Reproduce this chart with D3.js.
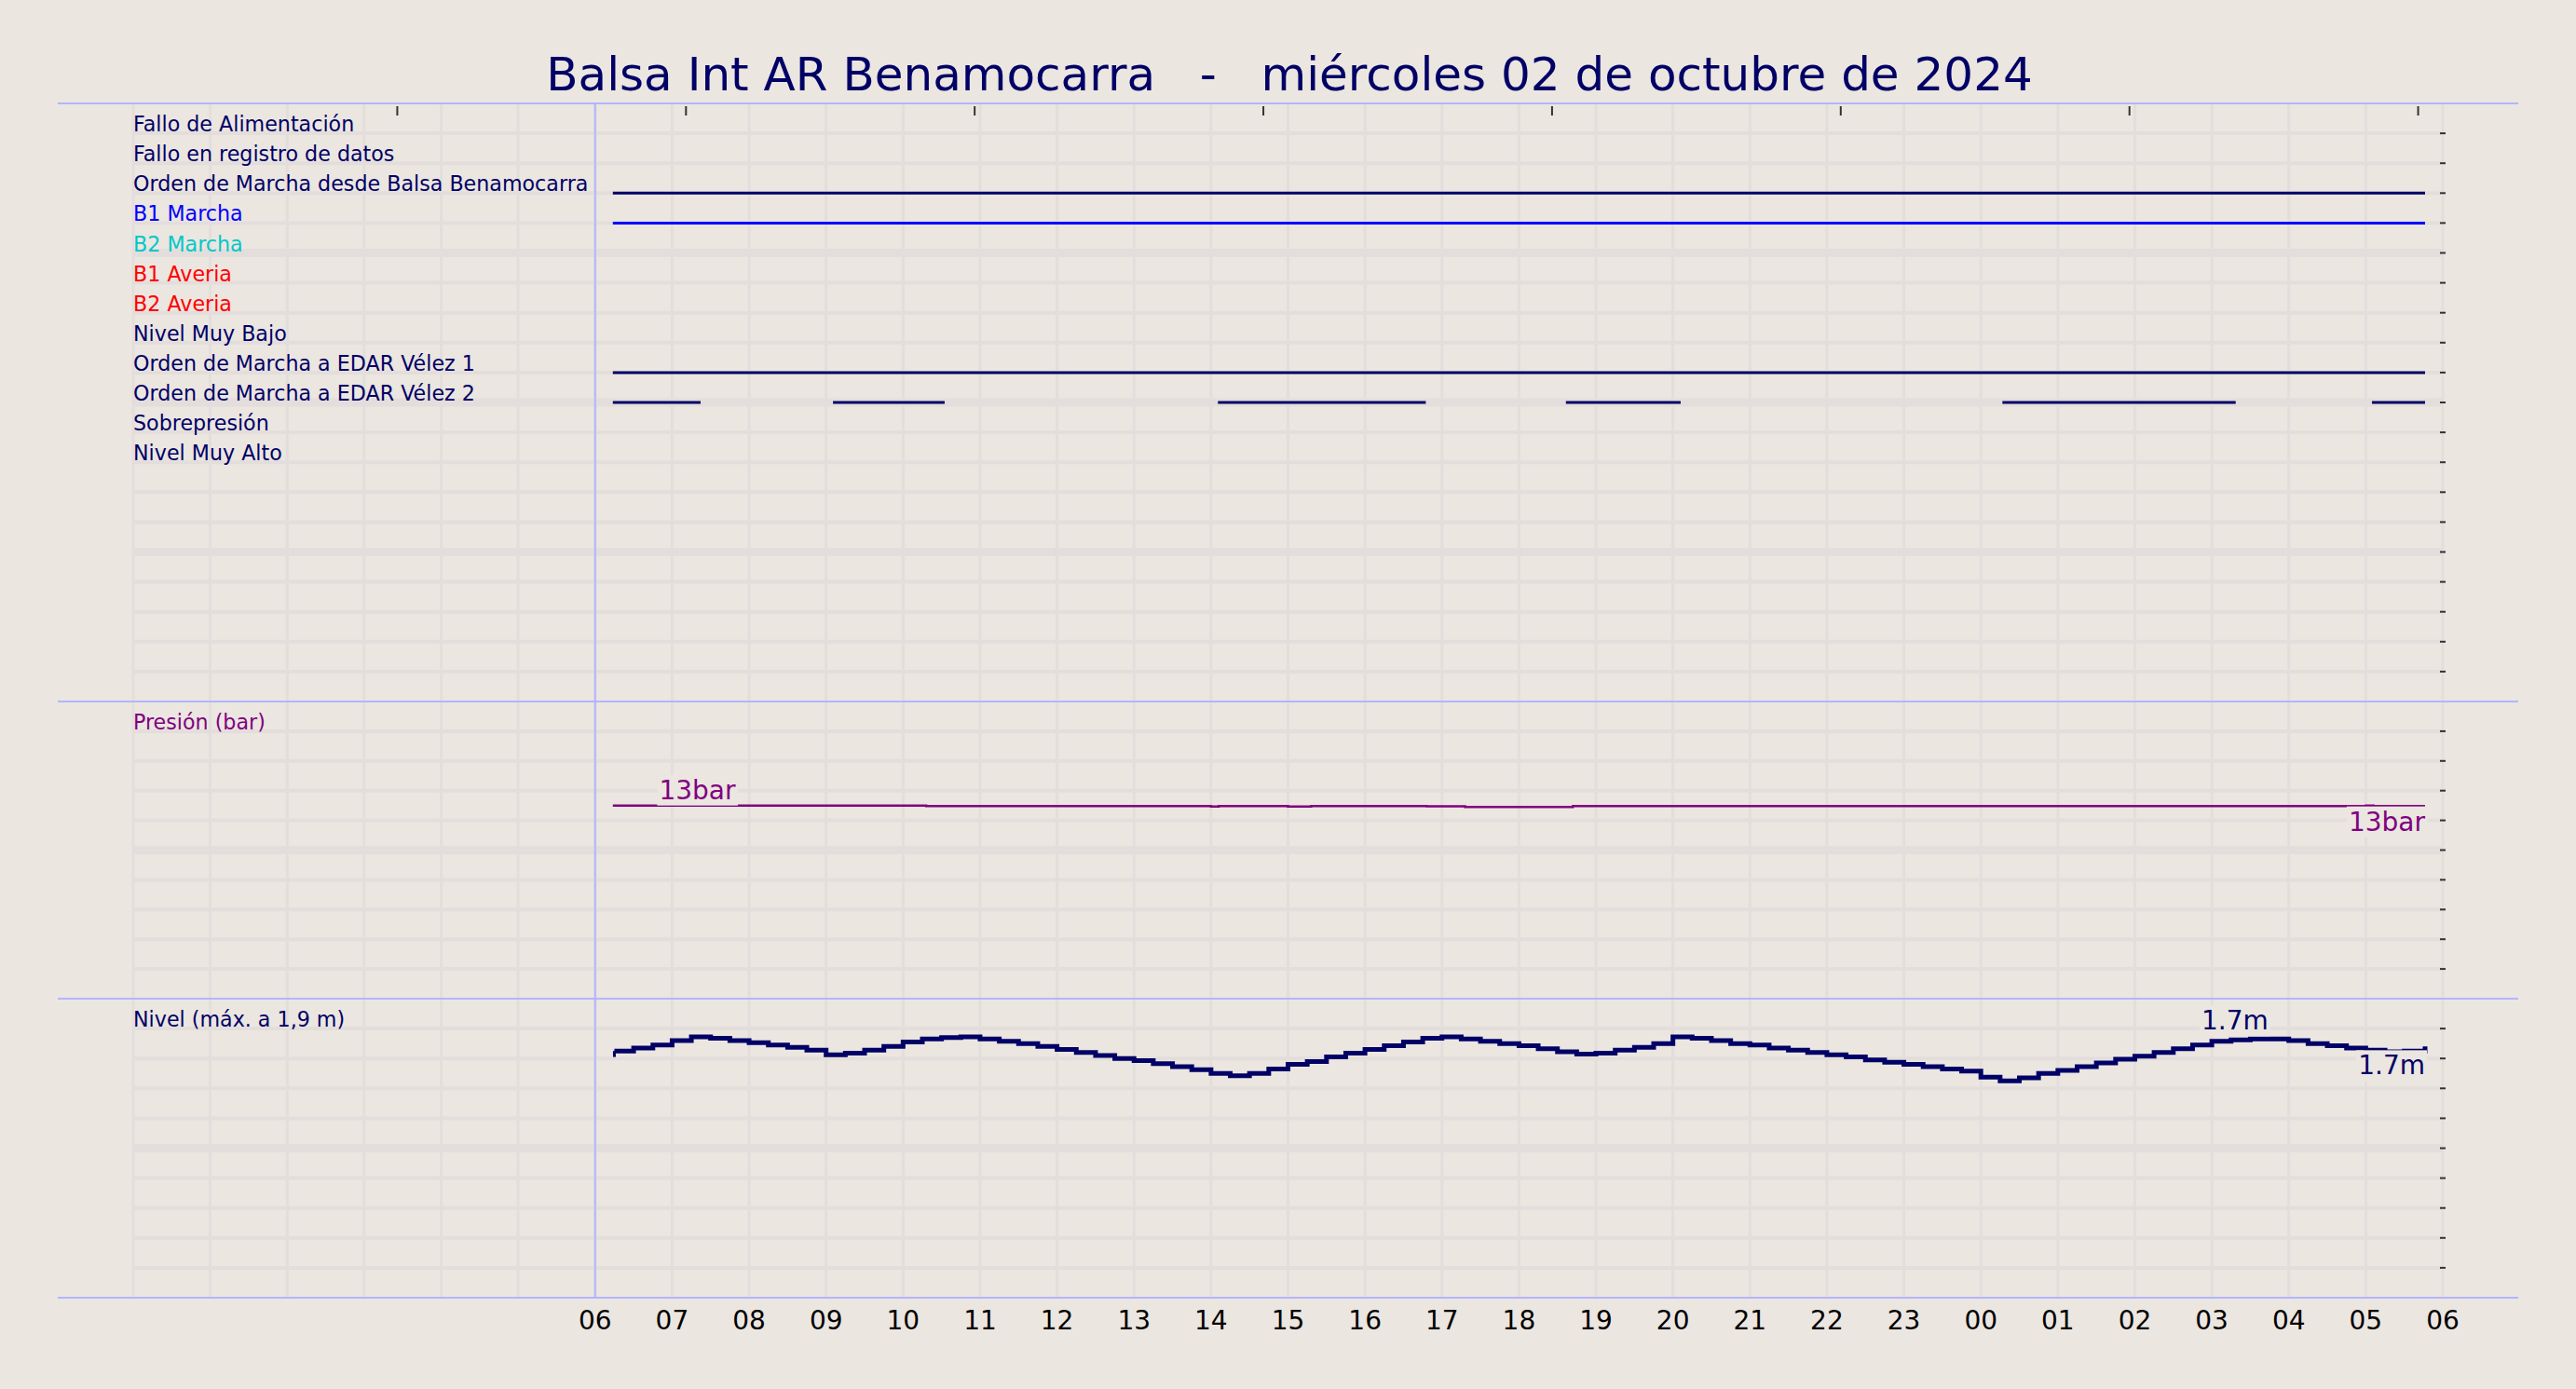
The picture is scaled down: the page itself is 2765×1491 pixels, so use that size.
<!DOCTYPE html>
<html><head><meta charset="utf-8">
<script src="https://cdn.jsdelivr.net/npm/d3@7"></script>
<style>body{margin:0;background:#ebe6e0}svg{display:block;font-family:"DejaVu Sans",sans-serif}</style>
</head><body><svg id="c" width="2765" height="1491"></svg>
<script>
// hours since 06:00 of 02/10/2024
const hourLabels = ["06","07","08","09","10","11","12","13","14","15","16","17","18","19","20","21","22","23","00","01","02","03","04","05","06"];
const signalNames = ["Fallo de Alimentación","Fallo en registro de datos","Orden de Marcha desde Balsa Benamocarra","B1 Marcha","B2 Marcha","B1 Averia","B2 Averia","Nivel Muy Bajo","Orden de Marcha a EDAR Vélez 1","Orden de Marcha a EDAR Vélez 2","Sobrepresión","Nivel Muy Alto"];
const signalColors = ["#000066","#000066","#000066","#0000ff","#00c8c8","#ff0000","#ff0000","#000066","#000066","#000066","#000066","#000066"];
// on-intervals [start,end] hours since 06:00 per signal index
const signalOn = {
  2: [[0.23,23.77]],
  3: [[0.23,23.77]],
  8: [[0.23,23.77]],
  9: [[0.23,1.37],[3.09,4.54],[8.09,10.79],[12.61,14.10],[18.28,21.31],[23.08,23.77]]
};
const pressureT = [0.23,4.3,8.0,8.1,9.0,9.3,10.8,11.3,12.7,23.0,23.1,23.77];
const pressureV = [13.0,12.97,12.93,12.96,12.93,12.96,12.94,12.9,12.96,13.0,12.96,12.96];
const levelT = [0.25,0.5,0.75,1.0,1.25,1.5,1.75,2.0,2.25,2.5,2.75,3.0,3.25,3.5,3.75,4.0,4.25,4.5,4.75,5.0,5.25,5.5,5.75,6.0,6.25,6.5,6.75,7.0,7.25,7.5,7.75,8.0,8.25,8.5,8.75,9.0,9.25,9.5,9.75,10.0,10.25,10.5,10.75,11.0,11.25,11.5,11.75,12.0,12.25,12.5,12.75,13.0,13.25,13.5,13.75,14.0,14.25,14.5,14.75,15.0,15.25,15.5,15.75,16.0,16.25,16.5,16.75,17.0,17.25,17.5,17.75,18.0,18.25,18.5,18.75,19.0,19.25,19.5,19.75,20.0,20.25,20.5,20.75,21.0,21.25,21.5,21.75,22.0,22.25,22.5,22.75,23.0,23.25,23.5];
const levelV = [1.65,1.67,1.69,1.72,1.745,1.735,1.72,1.705,1.69,1.675,1.655,1.625,1.635,1.655,1.68,1.71,1.73,1.74,1.745,1.73,1.715,1.70,1.68,1.66,1.64,1.62,1.60,1.585,1.565,1.545,1.525,1.50,1.485,1.50,1.53,1.56,1.58,1.61,1.635,1.66,1.685,1.71,1.735,1.745,1.73,1.715,1.70,1.685,1.665,1.645,1.63,1.635,1.655,1.675,1.70,1.745,1.735,1.72,1.70,1.69,1.67,1.655,1.64,1.625,1.61,1.59,1.575,1.56,1.545,1.53,1.515,1.475,1.45,1.47,1.50,1.52,1.545,1.57,1.595,1.615,1.64,1.665,1.69,1.715,1.725,1.73,1.73,1.72,1.70,1.685,1.67,1.655,1.645,1.65,1.68];
const topTicks = [3.43,7.18,10.93,14.68,18.43,22.18,25.93,29.68]; // hours since 00:00 (domain start)

const svg = d3.select("#c");
const BG="#ebe6e0", GRID="#e3dedb", NAVY="#000066", BLUE="#b4b4ff";
svg.append("rect").attr("width",2765).attr("height",1491).attr("fill",BG);
const x = d3.scaleLinear().domain([-6,24]).range([143,2622]);
const panels=[{y0:111,y1:753,rows:20},{y0:753,y1:1072,rows:10},{y0:1072,y1:1393,rows:10}];
const g = svg.append("g");
d3.range(-6,25).forEach(h=>g.append("line").attr("x1",x(h)).attr("x2",x(h)).attr("y1",111).attr("y2",1393).attr("stroke",GRID).attr("stroke-width",3));
panels.forEach(p=>{
  const ys=d3.scaleLinear().domain([0,p.rows]).range([p.y0,p.y1]);
  p.ys=ys;
  d3.range(1,p.rows).forEach(i=>{
    g.append("line").attr("x1",143).attr("x2",2622).attr("y1",ys(i)).attr("y2",ys(i)).attr("stroke",GRID).attr("stroke-width",i%5==0?9:4);
    g.append("line").attr("x1",2619).attr("x2",2625).attr("y1",ys(i)).attr("y2",ys(i)).attr("stroke","#333").attr("stroke-width",2);
  });
});
[111,753,1072,1393].forEach(y=>g.append("line").attr("x1",62).attr("x2",2703).attr("y1",y).attr("y2",y).attr("stroke",BLUE).attr("stroke-width",2));
g.append("line").attr("x1",x(0)).attr("x2",x(0)).attr("y1",111).attr("y2",1393).attr("stroke",BLUE).attr("stroke-width",2);
topTicks.forEach(h=>g.append("line").attr("x1",x(h-6)).attr("x2",x(h-6)).attr("y1",114).attr("y2",124).attr("stroke","#333").attr("stroke-width",2));
hourLabels.forEach((l,i)=>svg.append("text").attr("x",x(i)).attr("y",1427).attr("text-anchor","middle").attr("font-size",28).attr("fill","#000").text(l));
svg.append("text").attr("x",1384).attr("y",97).attr("text-anchor","middle").attr("font-size",50).attr("fill",NAVY).attr("xml:space","preserve").style("white-space","pre").text("Balsa Int AR Benamocarra   -   miércoles 02 de octubre de 2024");
const p1=panels[0];
signalNames.forEach((n,i)=>{
  const y=p1.ys(i+1);
  svg.append("text").attr("x",143).attr("y",y-2).attr("font-size",22.2).attr("fill",signalColors[i]).text(n);
  (signalOn[i]||[]).forEach(s=>svg.append("line").attr("x1",x(s[0])).attr("x2",x(s[1])).attr("y1",y).attr("y2",y).attr("stroke",signalColors[i]).attr("stroke-width",3));
});
const p2=panels[1];
const yp=d3.scaleLinear().domain([0,20]).range([p2.y1,p2.y0]);
svg.append("text").attr("x",143).attr("y",p2.ys(1)-2).attr("font-size",22.2).attr("fill","#800080").text("Presión (bar)");
const pdata=pressureT.map((t,i)=>[t,pressureV[i]]);
svg.append("path").datum(pdata).attr("fill","none").attr("stroke","#800080").attr("stroke-width",2.5)
  .attr("d",d3.line().x(d=>x(d[0])).y(d=>yp(d[1])).curve(d3.curveStepAfter));
function label(xp,yp_,txt,col,anchor){
  const t=svg.append("text").attr("x",xp).attr("y",yp_).attr("font-size",28).attr("fill",col).attr("text-anchor",anchor).text(txt);
  const b=t.node().getBBox();
  svg.insert("rect",()=>t.node()).attr("x",b.x-2).attr("y",b.y).attr("width",b.width+4).attr("height",b.height).attr("fill",BG);
}
label(x(0.83),yp(13)-7,"13bar","#800080","start");
label(x(23.77),yp(13)+27,"13bar","#800080","end");
const p3=panels[2];
const yl=d3.scaleLinear().domain([0,2]).range([p3.y1,p3.y0]);
svg.append("text").attr("x",143).attr("y",p3.ys(1)-2).attr("font-size",22.2).attr("fill",NAVY).text("Nivel (máx. a 1,9 m)");
const ldata=levelT.map((t,i)=>[t,levelV[i]]);
ldata.push([23.77,levelV[levelV.length-1]]);
svg.append("path").datum(ldata).attr("fill","none").attr("stroke",NAVY).attr("stroke-width",5)
  .attr("d",d3.line().x(d=>x(d[0])).y(d=>yl(d[1])).curve(d3.curveStepAfter));
svg.append("line").attr("x1",x(0.25)).attr("x2",x(0.25)).attr("y1",yl(1.65)).attr("y2",yl(1.61)).attr("stroke",NAVY).attr("stroke-width",3);
label(x(21.3),yl(1.73)-10,"1.7m",NAVY,"middle");
label(x(23.77),yl(1.68)+30,"1.7m",NAVY,"end");
</script></body></html>
